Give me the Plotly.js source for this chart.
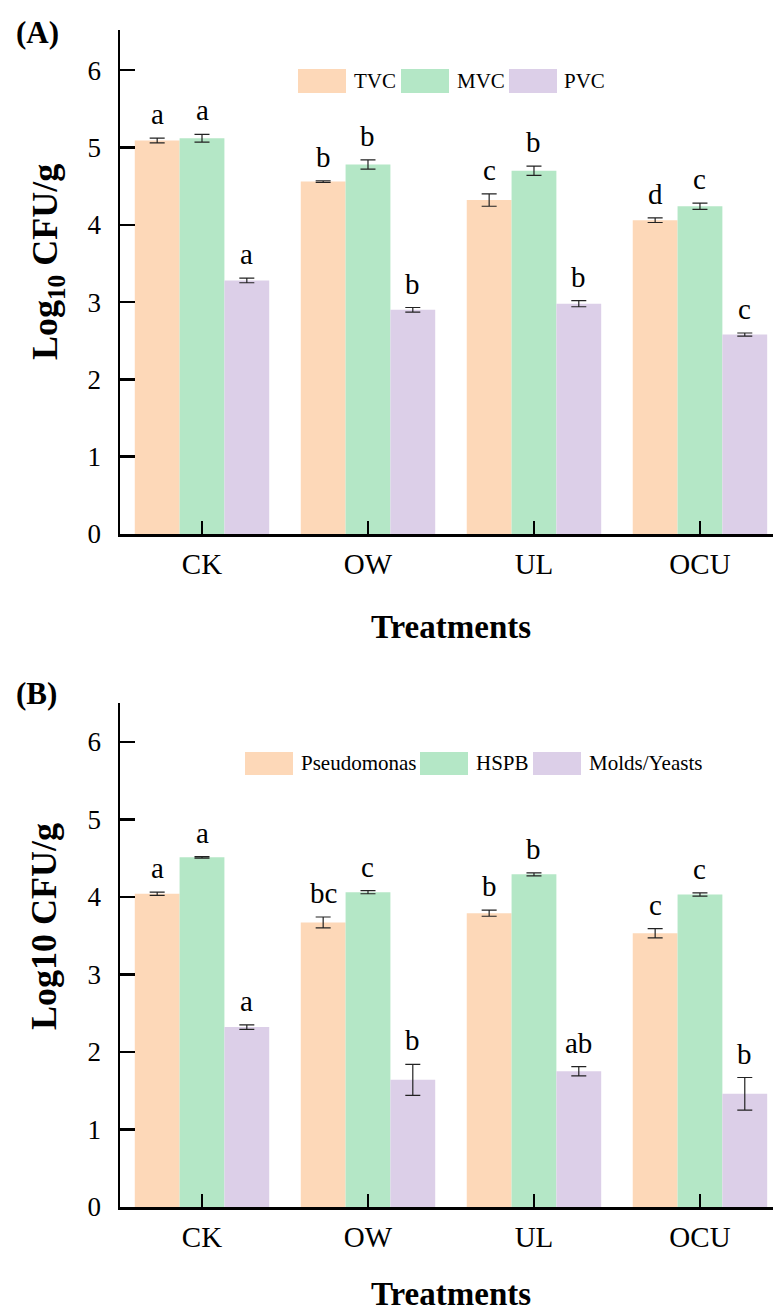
<!DOCTYPE html>
<html>
<head>
<meta charset="utf-8">
<script src="https://cdn.plot.ly/plotly-3.0.1.min.js"></script>
<style>html,body{margin:0;padding:0;background:#fff;}#chart{width:773px;height:1314px;}</style>
</head>
<body>
<div id="chart"></div>
<script>
// ---------- data ----------
const treatments = ["CK", "OW", "UL", "OCU"];

const seriesA = ["TVC", "MVC", "PVC"];
const tvc      = [5.09, 4.56, 4.32, 4.06];
const tvcErr   = [0.03, 0.01, 0.08, 0.03];
const mvc      = [5.12, 4.78, 4.70, 4.24];
const mvcErr   = [0.05, 0.06, 0.06, 0.04];
const pvc      = [3.28, 2.90, 2.98, 2.58];
const pvcErr   = [0.03, 0.03, 0.04, 0.02];
const tvcLetters = ["a", "b", "c", "d"];
const mvcLetters = ["a", "b", "b", "c"];
const pvcLetters = ["a", "b", "b", "c"];

const seriesB = ["Pseudomonas", "HSPB", "Molds/Yeasts"];
const pseudo     = [4.04, 3.67, 3.79, 3.53];
const pseudoErr  = [0.02, 0.07, 0.04, 0.06];
const hspb       = [4.51, 4.06, 4.29, 4.03];
const hspbErr    = [0.01, 0.02, 0.02, 0.02];
const molds      = [2.32, 1.64, 1.75, 1.46];
const moldsErr   = [0.03, 0.20, 0.06, 0.21];
const pseudoLetters = ["a", "bc", "b", "c"];
const hspbLetters   = ["a", "c", "b", "c"];
const moldsLetters  = ["a", "b", "ab", "b"];

const yTicks = [0, 1, 2, 3, 4, 5, 6];
const yTitleA = "<b>Log<sub>10</sub> CFU/g</b>";
const yTitleB = "<b>Log10 CFU/g</b>";
const xTitle = "<b>Treatments</b>";

// ---------- style ----------
const colors = ["#FDD8B8", "#B4E7C6", "#DCCFE8"];
const FONT = "Liberation Serif";
const barW = 0.27;
const offsets = [-barW, 0, barW];
const xIdx = treatments.map((_, i) => i);
const W = 773, H = 1314;
const px = v => v / W, py = v => 1 - v / H;

const panels = [
  {names: seriesA, vals: [tvc, mvc, pvc], errs: [tvcErr, mvcErr, pvcErr],
   letters: [tvcLetters, mvcLetters, pvcLetters], xa: "x", ya: "y"},
  {names: seriesB, vals: [pseudo, hspb, molds], errs: [pseudoErr, hspbErr, moldsErr],
   letters: [pseudoLetters, hspbLetters, moldsLetters], xa: "x2", ya: "y2"}
];

const traces = [];
const annotations = [];
panels.forEach(p => {
  p.names.forEach((nm, k) => {
    traces.push({
      type: "bar", name: nm, x: xIdx, y: p.vals[k],
      xaxis: p.xa, yaxis: p.ya, width: barW, offset: offsets[k] - barW / 2,
      marker: {color: colors[k], line: {width: 0}},
      error_y: {type: "data", array: p.errs[k], visible: true, color: "#222", thickness: 1.2, width: 7.5},
      showlegend: false, hoverinfo: "x+y"
    });
    p.vals[k].forEach((v, i) => {
      annotations.push({
        xref: p.xa, yref: p.ya, x: i + offsets[k], y: v + p.errs[k][i],
        text: p.letters[k][i], showarrow: false, yanchor: "bottom", yshift: 6,
        font: {family: FONT, size: 29, color: "#000"}
      });
    });
  });
});

// custom legends (big swatches like the reference)
const shapes = [];
function legend(names, swX, txtX, yTop, yBot) {
  names.forEach((nm, k) => {
    shapes.push({type: "rect", xref: "paper", yref: "paper",
      x0: px(swX[k]), x1: px(swX[k] + 48), y0: py(yBot), y1: py(yTop),
      fillcolor: colors[k], line: {width: 0}});
    annotations.push({xref: "paper", yref: "paper", x: px(txtX[k]), y: py((yTop + yBot) / 2),
      xanchor: "left", yanchor: "middle", text: nm, showarrow: false,
      font: {family: FONT, size: 21, color: "#000"}});
  });
}
legend(seriesA, [298, 401, 509], [352, 455, 562], 69, 93);
legend(seriesB, [245, 420, 533], [299, 474, 587], 752, 775);

// panel labels
annotations.push({xref: "paper", yref: "paper", x: px(14), y: py(32), xanchor: "left", yanchor: "middle",
  text: "<b>(A)</b>", showarrow: false, font: {family: FONT, size: 31, color: "#000"}});
annotations.push({xref: "paper", yref: "paper", x: px(14), y: py(693), xanchor: "left", yanchor: "middle",
  text: "<b>(B)</b>", showarrow: false, font: {family: FONT, size: 31, color: "#000"}});

// axis titles
annotations.push({xref: "paper", yref: "paper", x: px(48), y: py(262), xanchor: "center", yanchor: "middle",
  textangle: -90, text: yTitleA, showarrow: false, font: {family: FONT, size: 36, color: "#000"}});
annotations.push({xref: "paper", yref: "paper", x: px(44), y: py(927), xanchor: "center", yanchor: "middle",
  textangle: -90, text: yTitleB, showarrow: false, font: {family: FONT, size: 36, color: "#000"}});
annotations.push({xref: "paper", yref: "paper", x: px(451), y: py(627), xanchor: "center", yanchor: "middle",
  text: xTitle, showarrow: false, font: {family: FONT, size: 33, color: "#000"}});
annotations.push({xref: "paper", yref: "paper", x: px(451), y: 0, xanchor: "center", yanchor: "bottom",
  text: xTitle, showarrow: false, font: {family: FONT, size: 33, color: "#000"}});

function xaxis(anchor) {
  return {
    domain: [px(120), 1], anchor: anchor, range: [-0.494, 3.44],
    tickmode: "array", tickvals: xIdx, ticktext: treatments,
    ticks: "inside", ticklen: 13, tickwidth: 2.5, tickcolor: "#000",
    showline: true, linecolor: "#000", linewidth: 2.5, showgrid: false, zeroline: false,
    tickfont: {family: FONT, size: 29, color: "#000"}, ticklabelstandoff: 3,
    automargin: false
  };
}
function yaxis(anchor, dom, top) {
  return {
    domain: dom, anchor: anchor, range: [0, top],
    tickmode: "array", tickvals: yTicks,
    ticks: "inside", ticklen: 15, tickwidth: 2.5, tickcolor: "#000",
    showline: true, linecolor: "#000", linewidth: 2.5, showgrid: false, zeroline: false,
    tickfont: {family: FONT, size: 27, color: "#000"}, ticklabelstandoff: 11,
    automargin: false
  };
}

const layout = {
  width: W, height: H,
  margin: {l: 0, r: 0, t: 0, b: 0},
  paper_bgcolor: "#fff", plot_bgcolor: "#fff",
  barmode: "overlay",
  showlegend: false,
  font: {family: FONT, color: "#000"},
  xaxis: xaxis("y"),
  yaxis: yaxis("x", [py(534), py(30)], 6.52),
  xaxis2: xaxis("y2"),
  yaxis2: yaxis("x2", [py(1207), py(703)], 6.5),
  annotations: annotations,
  shapes: shapes
};

Plotly.newPlot("chart", traces, layout, {displayModeBar: false, staticPlot: true});
</script>
</body>
</html>
